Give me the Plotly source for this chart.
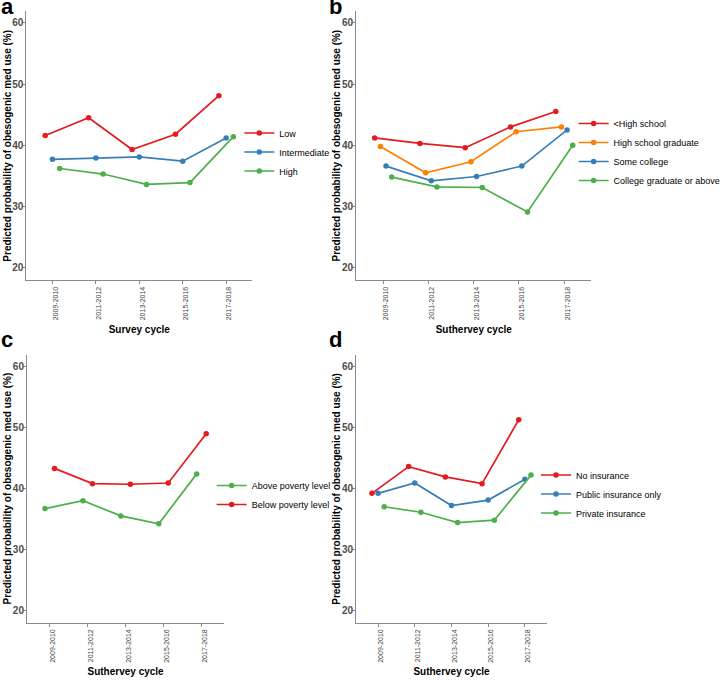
import plotly.graph_objects as go

# ---------------- data ----------------
cycles = ["2009-2010", "2011-2012", "2013-2014", "2015-2016", "2017-2018"]

a_names = ["Low", "Intermediate", "High"]
a_low = [41.6, 44.5, 39.3, 41.8, 48.1]
a_intermediate = [37.7, 37.9, 38.1, 37.4, 41.2]
a_high = [36.2, 35.3, 33.6, 33.9, 41.4]

b_names = ["<High school", "High school graduate", "Some college", "College graduate or above"]
b_less_hs = [41.2, 40.3, 39.6, 43.0, 45.5]
b_hs_grad = [39.8, 35.5, 37.3, 42.2, 43.0]
b_some_college = [36.6, 34.2, 34.9, 36.6, 42.5]
b_college_grad = [34.8, 33.2, 33.1, 29.1, 40.0]

c_names = ["Above poverty level", "Below poverty level"]
c_above = [36.7, 38.0, 35.5, 34.2, 42.4]
c_below = [43.3, 40.8, 40.7, 40.9, 49.0]

d_names = ["No insurance", "Public insurance only", "Private insurance"]
d_no_ins = [39.2, 43.6, 41.9, 40.8, 51.3]
d_public = [39.2, 40.9, 37.2, 38.1, 41.5]
d_private = [37.0, 36.1, 34.4, 34.8, 42.2]

y_ticks = [20, 30, 40, 50, 60]
y_title = "Predicted probability of obesogenic med use (%)"

# ---------------- style ----------------
RED, BLUE, GREEN, ORANGE = "#E41A1C", "#377EB8", "#4DAF4A", "#FF7F00"
FONT = "Liberation Sans, Arial, sans-serif"
W, H = 726, 680
DODGE = 0.5

panels = [
    dict(key="a", series=[a_low, a_intermediate, a_high], names=a_names,
         colors=[RED, BLUE, GREEN], xtitle="Survey cycle",
         px_x=(26.7, 255), px_y=(10.5, 280), leg_x=242, leg_y=152,
         ytitle_x=7.5, letter=(-1, -8)),
    dict(key="b", series=[b_less_hs, b_hs_grad, b_some_college, b_college_grad], names=b_names,
         colors=[RED, ORANGE, BLUE, GREEN], xtitle="Suthervey cycle",
         px_x=(360, 598), px_y=(10.5, 280), leg_x=580, leg_y=152,
         ytitle_x=340, letter=(331, -8)),
    dict(key="c", series=[c_above, c_below], names=c_names,
         colors=[GREEN, RED], xtitle="Suthervey cycle",
         px_x=(27.3, 226.7), px_y=(354.5, 622.5), leg_x=214, leg_y=495,
         ytitle_x=8, letter=(-1, 325)),
    dict(key="d", series=[d_no_ins, d_public, d_private], names=d_names,
         colors=[RED, BLUE, GREEN], xtitle="Suthervey cycle",
         px_x=(360, 553), px_y=(354.5, 622.5), leg_x=542, leg_y=494,
         ytitle_x=340, letter=(331, 325)),
]

fig = go.Figure()
layout = dict(
    width=W, height=H, autosize=False,
    margin=dict(l=0, r=0, t=0, b=0),
    paper_bgcolor="white", plot_bgcolor="white",
    font=dict(family=FONT, color="black"),
    annotations=[],
)

for i, p in enumerate(panels):
    n = i + 1
    xa = "x" if n == 1 else f"x{n}"
    ya = "y" if n == 1 else f"y{n}"
    leg = "legend" if n == 1 else f"legend{n}"
    k = len(p["series"])
    for j, (vals, name, col) in enumerate(zip(p["series"], p["names"], p["colors"])):
        off = (j - (k - 1) / 2) * DODGE / k
        fig.add_trace(go.Scatter(
            x=[idx + 1 + off for idx in range(len(cycles))], y=vals,
            mode="lines+markers", name=name,
            line=dict(color=col, width=1.7),
            marker=dict(color=col, size=5.5),
            xaxis=xa, yaxis=ya, legend=leg,
        ))
    x0, x1 = p["px_x"]
    y0, y1 = p["px_y"]
    axis_common = dict(showgrid=False, zeroline=False, showline=True,
                       linecolor="#8a8a8a", linewidth=1, ticks="outside",
                       ticklen=3, tickcolor="#8a8a8a", tickwidth=1)
    layout["xaxis" if n == 1 else f"xaxis{n}"] = dict(
        domain=[x0 / W, x1 / W], anchor=ya,
        range=[0.4, 5.6], tickmode="array",
        tickvals=list(range(1, len(cycles) + 1)), ticktext=cycles,
        tickangle=-90, ticklabelshift=3,
        tickfont=dict(family=FONT, size=7, color="#444444"),
        title=dict(text=p["xtitle"], standoff=6,
                   font=dict(family=FONT, size=10, color="black", weight="bold")),
        **axis_common,
    )
    layout["yaxis" if n == 1 else f"yaxis{n}"] = dict(
        domain=[1 - y1 / H, 1 - y0 / H], anchor=xa,
        range=[18, 62], tickmode="array", tickvals=y_ticks,
        ticklabelstandoff=-3,
        tickfont=dict(family=FONT, size=10, color="#4D4D4D", weight="bold"),
        **axis_common,
    )
    # y-axis title (placed as rotated text beside the axis)
    layout["annotations"].append(dict(
        text=y_title, textangle=-90,
        x=p["ytitle_x"] / W, y=1 - (y0 + y1) / 2 / H, xref="paper", yref="paper",
        xanchor="center", yanchor="middle", showarrow=False,
        font=dict(family=FONT, size=10, color="black", weight="bold"),
    ))
    layout[leg] = dict(
        x=p["leg_x"] / W, xanchor="left", xref="paper",
        y=1 - p["leg_y"] / H, yanchor="middle", yref="paper",
        bgcolor="rgba(0,0,0,0)", borderwidth=0,
        font=dict(family=FONT, size=9, color="black"),
        itemwidth=30, tracegroupgap=0,
    )
    lx, ly = p["letter"]
    layout["annotations"].append(dict(
        text=p["key"], x=lx / W, y=1 - ly / H, xref="paper", yref="paper",
        xanchor="left", yanchor="top", showarrow=False,
        font=dict(family=FONT, size=22, color="black", weight="bold"),
    ))

fig.update_layout(**layout)
fig.write_html("out.html", config={"displayModeBar": False},
               post_script="document.body.style.margin='0';document.body.style.padding='0';")
